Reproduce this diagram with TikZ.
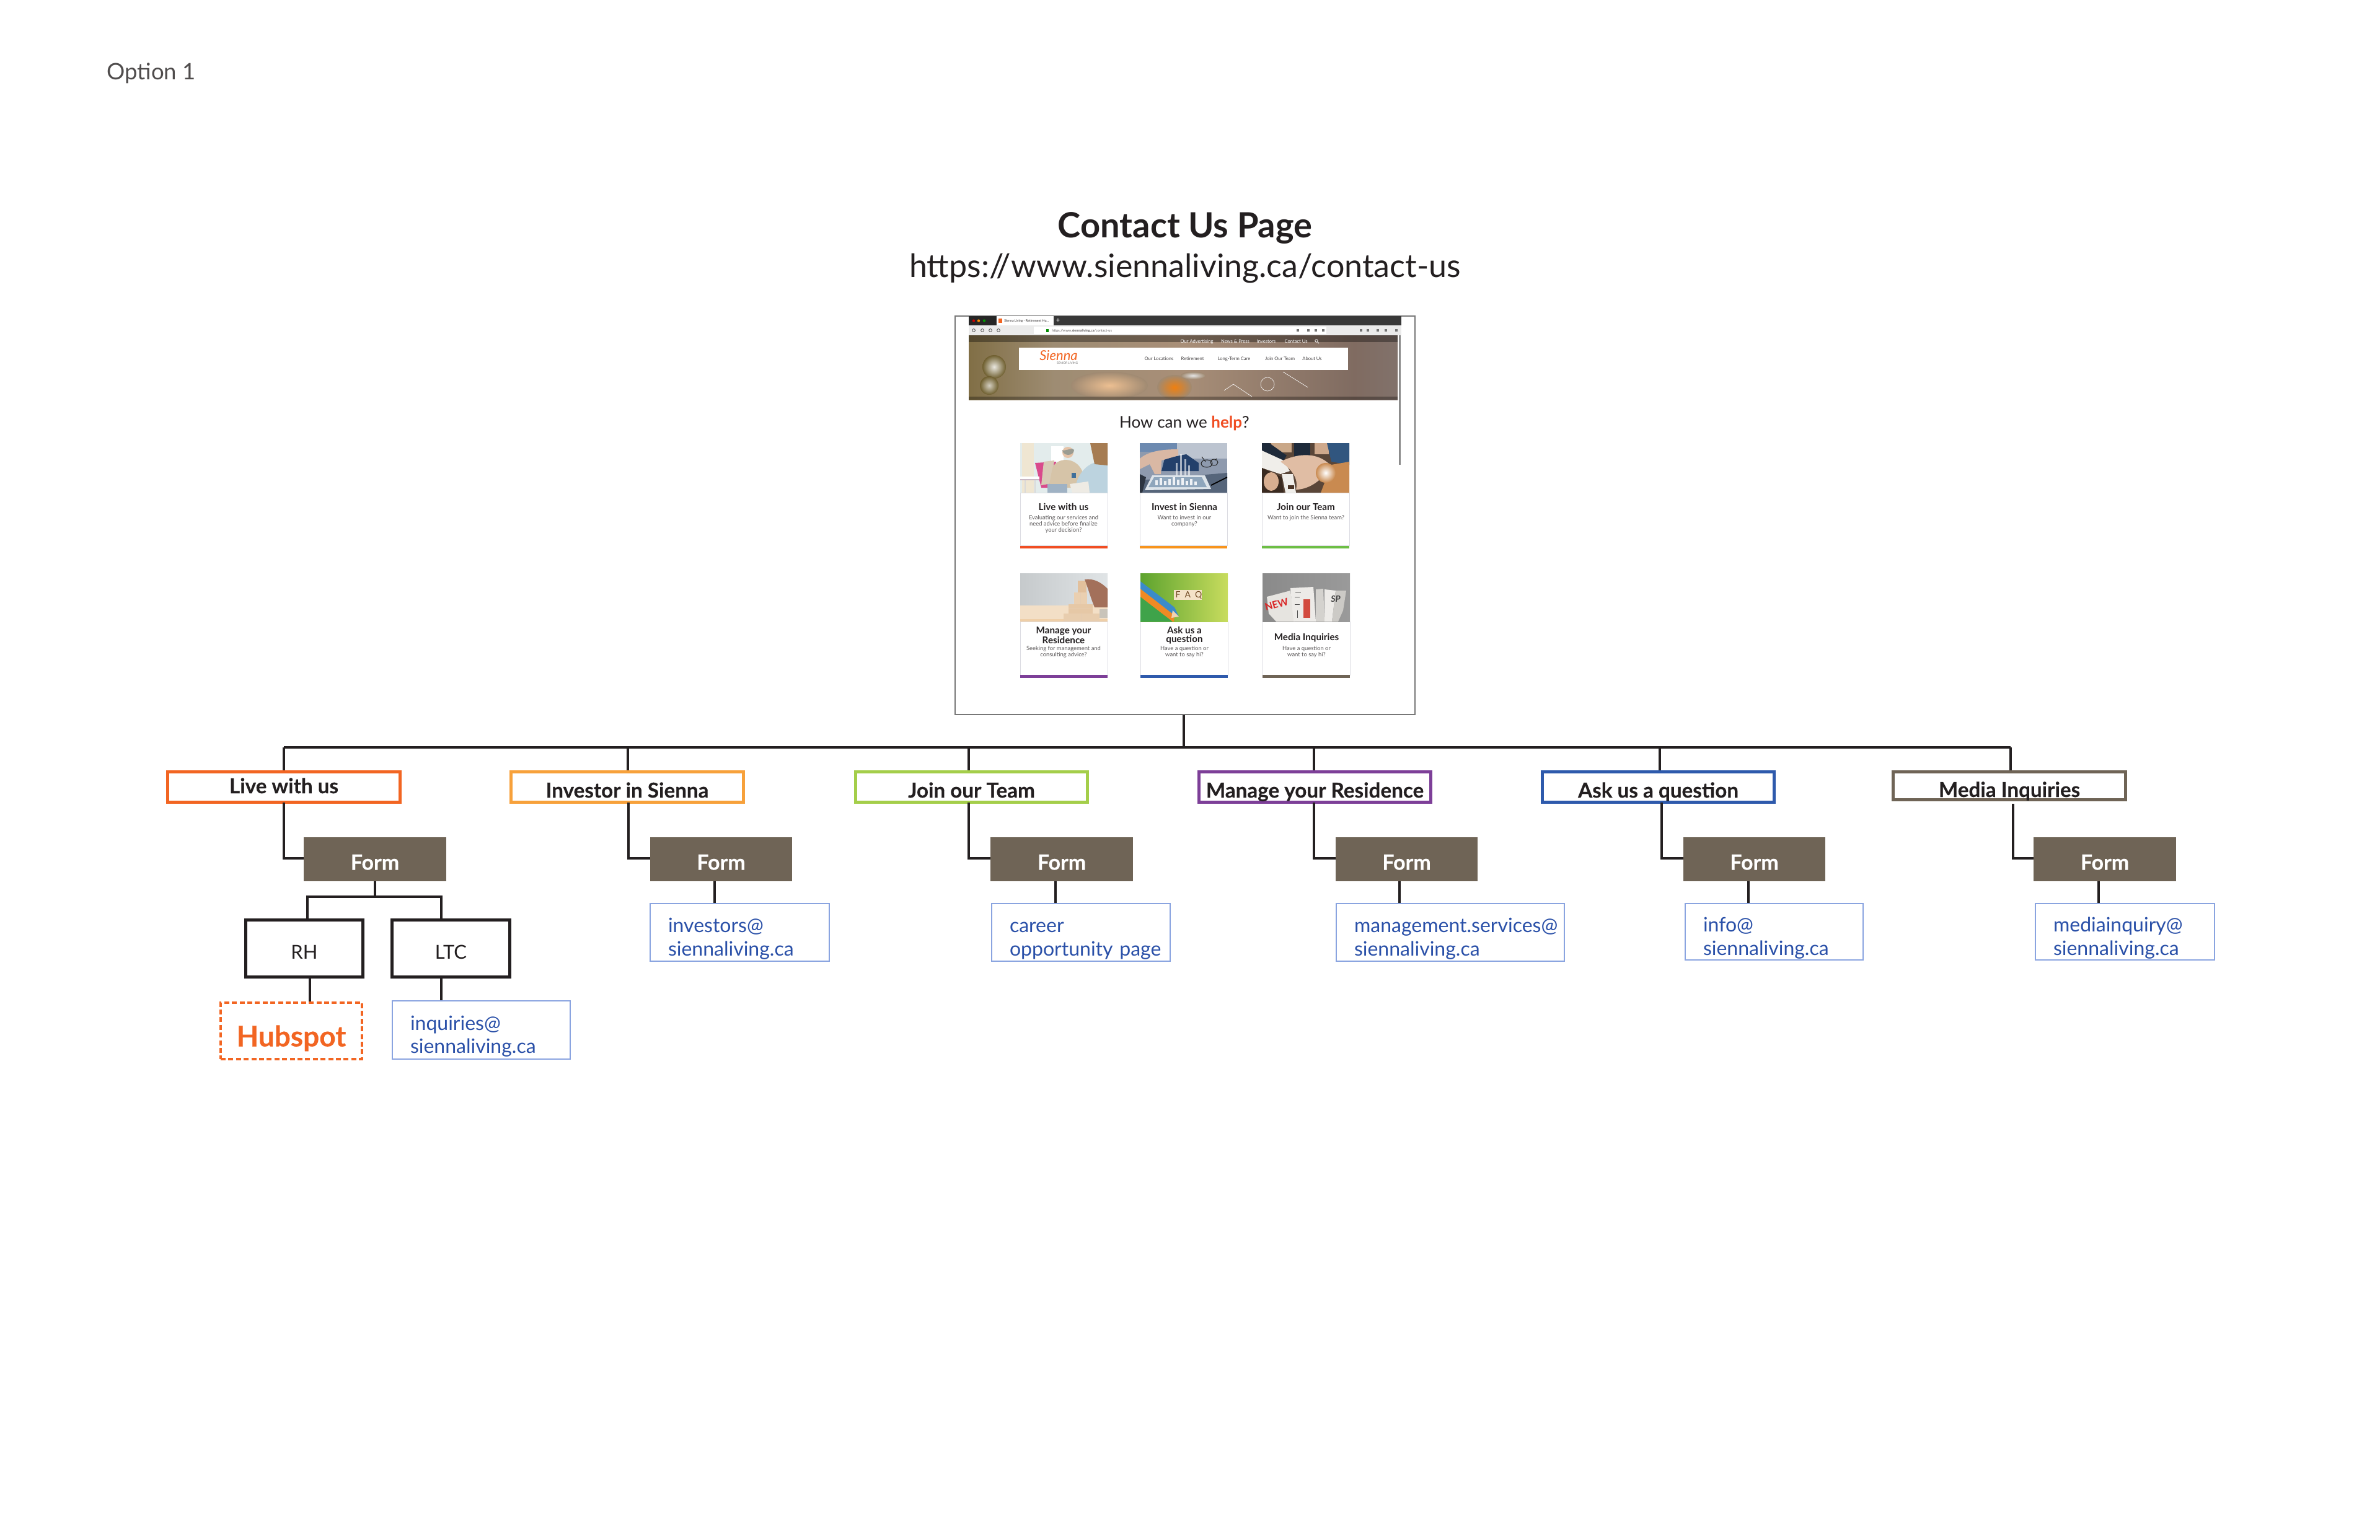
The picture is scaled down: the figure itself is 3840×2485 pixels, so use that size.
\documentclass[tikz,border=0pt]{standalone}
\usepackage{fontspec}
\setmainfont{Lato}
\usetikzlibrary{calc}
\definecolor{ink}{HTML}{231F20}
\definecolor{cLive}{HTML}{F26522}
\definecolor{cInv}{HTML}{F7A13B}
\definecolor{cJoin}{HTML}{A4CE4A}
\definecolor{cMan}{HTML}{7D3F98}
\definecolor{cAsk}{HTML}{2E5AAC}
\definecolor{cMed}{HTML}{6F6456}
\definecolor{mailb}{HTML}{8AA4E0}
\definecolor{mailt}{HTML}{2A50A8}
\definecolor{frameg}{HTML}{777777}
\definecolor{olive}{HTML}{6E5E2E}
\definecolor{tanb}{HTML}{A08A72}
\definecolor{barR}{HTML}{F04E23}
\definecolor{barO}{HTML}{F7941D}
\definecolor{barG}{HTML}{6DBE45}
\pgfdeclarehorizontalshading{heroband}{100bp}{rgb(0bp)=(0.22,0.16,0.07);rgb(8bp)=(0.45,0.36,0.14);rgb(22bp)=(0.47,0.40,0.22);rgb(35bp)=(0.62,0.55,0.45);rgb(50bp)=(0.66,0.56,0.47);rgb(70bp)=(0.50,0.42,0.38);rgb(85bp)=(0.52,0.50,0.50);rgb(92bp)=(0.32,0.31,0.32);rgb(100bp)=(0.40,0.38,0.38)}
\tikzset{
  wire/.style={draw=ink,line width=2pt},
  bl/.style={text height=#1pt,text depth=0pt},
  heavy/.style={font=\fontsize{#1}{18}\selectfont\bfseries\addfontfeatures{FakeBold=0.25}},
  catbox/.style={draw=#1,line width=2.5pt,fill=white,inner sep=0pt,text=ink,heavy=16.6},
  formbox/.style={fill=cMed,inner sep=0pt,text=white,heavy=17,bl=17},
  blackbox/.style={draw=ink,line width=2.5pt,fill=white,inner sep=0pt,text=ink,font=\fontsize{15.5}{18}\selectfont,bl=17},
  mailbox/.style={draw=mailb,line width=0.8pt,fill=white,inner xsep=0pt,inner ysep=0pt,text=mailt,align=left,font=\fontsize{16}{18.75}\selectfont},
  hubbox/.style={draw=cLive,line width=1.7pt,dash pattern=on 4pt off 2.2pt,fill=white,inner sep=0pt,text=cLive,heavy=23,bl=25},
  plain/.style={inner sep=0pt,anchor=base,text=ink},
  ctitle/.style={plain,font=\fontsize{7.6}{8}\selectfont\bfseries},
  cbody/.style={plain,text=ink!75,font=\fontsize{4.7}{5}\selectfont},
  navtxt/.style={plain,text=#1,font=\fontsize{3.8}{5}\selectfont},
  cardframe/.style={draw=blue!10!gray!25,line width=0.4pt,fill=white},
}
\newcommand{\bx}[7][]{\node[#1,minimum width={(#5-#3)*0.5},minimum height={(#6-#4)*0.5}] (#2) at ({(#3+#5)/2},{(#4+#6)/2}) {#7};}
\newcommand{\ml}[7]{\node[mailbox,text width={(#4-#2-58)*0.5},minimum width={(#4-#2)*0.5},minimum height={(#5-#3)*0.5}] (#1) at ({(#2+#4)/2},{(#3+#5)/2}) {\hbox{\rule{0pt}{22pt}#6}\\\hbox{#7}};}
\newcommand{\card}[6]{\fill[cardframe] (#2,#4) rectangle ({#2+141},#5);\fill[#6] (#2,#5) rectangle ({#2+141},{#5+4.5});\coordinate (#1) at (#2,#3);}
\newcommand{\hx}[1]{\definecolor{tmpc}{HTML}{#1}}
\begin{document}
\begin{tikzpicture}[x=0.5pt,y=-0.5pt]
\useasboundingbox[fill=white] (0,0) rectangle (3840,2485);

\node[plain,font=\fontsize{18.3}{22}\selectfont,text=ink!80,anchor=base west] (opt) at (172,128) {Option 1};
\node[plain,font=\fontsize{28}{30}\selectfont\bfseries] (title) at (1912,383) {Contact Us Page};
\node[plain,font=\fontsize{26}{30}\selectfont] (url) at (1912,447) {https://www.siennaliving.ca/contact-us};

% ---------- screenshot ----------
\bx[draw=frameg,line width=0.8pt,fill=white,inner sep=0pt]{shot}{1541}{510}{2283}{1153}{}
\fill[black!78] (1563,510) rectangle (2261,525);
\fill[black!85] (1563,510) rectangle (1607,525);
\fill[white] (1608,510) rectangle (1700,525);
\fill[red!80!black] (1571,517.5) circle (2.2);
\fill[orange!90!yellow] (1579,517.5) circle (2.2);
\fill[green!60!black] (1588,517.5) circle (2.2);
\fill[cLive] (1611,514) rectangle (1617,521);
\node[plain,font=\fontsize{2.6}{3}\selectfont,anchor=base west] (tabt) at (1620,519.5) {Sienna Living - Retirement Ho...};
\node[plain,text=white,font=\fontsize{5.5}{6}\selectfont] (plus) at (1707,520) {+};
\fill[black!8] (1563,525) rectangle (2261,541);
\fill[white] (1668,527) rectangle (2140,539);
\foreach \xx in {1571,1585,1598,1611}{\draw[black!70,line width=0.4pt] (\xx,533) circle (2.4);}
\fill[green!55!black] (1688,531) rectangle (1692,536);
\node[plain,font=\fontsize{2.8}{3}\selectfont,anchor=base west,text=ink!75] (addr) at (1697,535) {https://www.\textbf{siennaliving.ca}/contact-us};
\foreach \xx in {2094,2111,2123,2135,2196,2207,2223,2236,2253}{\fill[black!55] (\xx-1.8,531) rectangle (\xx+1.8,535);}

% hero
\path[shading=heroband] (1563,541) rectangle (2255,645);
\shade[inner color=white!85!olive,outer color=olive] (1604,592) circle (19);
\shade[inner color=white!70!olive,outer color=olive] (1596,622) circle (15);
\shade[inner color=white!60!orange!80!tanb,outer color=tanb] (1790,622) ellipse (62 and 22);
\shade[inner color=orange!75!brown,outer color=tanb] (1895,625) ellipse (28 and 20);
\shade[inner color=white!80!gray,outer color=tanb] (1925,606) ellipse (20 and 6);
\draw[white!70,line width=0.3pt] (2045,620) circle (11) (1975,630) -- (1990,620) -- (2020,640) (2070,600) -- (2110,625);
\fill[black,opacity=.35] (1563,541) rectangle (2255,552);
\fill[black,opacity=.3] (1563,640) rectangle (2255,645);
\bx[fill=white,inner sep=0pt]{navbar}{1644}{561}{2175}{597}{}
\foreach \tx/\nn/\tt in {1931/na/Our Advertising,1993/nb/News \& Press,2043/nc/Investors,2091/nd/Contact Us}{\node[navtxt=white] (\nn) at (\tx,553) {\tt};}
\draw[white,line width=0.4pt] (2124,550) circle (2.2) (2126,552) -- (2128,554);
\foreach \tx/\nn/\tt in {1870/ne/Our Locations,1924/nf/Retirement,1991/ng/Long-Term Care,2065/nh/Join Our Team,2117/ni/About Us}{\node[navtxt=ink!85] (\nn) at (\tx,581.5) {\tt};}
\node[plain,text=cLive,font=\fontsize{11}{12}\selectfont\itshape] (logo) at (1708,581) {Sienna};
\node[plain,text=black!55,font=\fontsize{2.4}{3}\selectfont] (logos) at (1722,587) {SENIOR LIVING};
\fill[black!45] (2257,541) rectangle (2260,750);
\node[plain,font=\fontsize{13}{14}\selectfont] (help) at (1911,690) {How can we \textcolor{barR}{\bfseries help}?};

% cards
\card{k1}{1646}{715}{795}{880.5}{barR}
\card{k2}{1839}{715}{795}{880.5}{barO}
\card{k3}{2036}{715}{795}{880.5}{barG}
\card{k4}{1646}{925}{1003}{1089}{cMan}
\card{k5}{1840}{925}{1003}{1089}{cAsk}
\card{k6}{2037}{925}{1003}{1089}{cMed}

% card 1 picture
\begin{scope}[shift={(k1)}]
\clip (0,0) rectangle (141,80);
\hx{E3ECEC}\fill[tmpc] (0,0) rectangle (141,80);
\hx{EFE6D2}\fill[tmpc] (3,0) rectangle (22,80);
\fill[white] (50,5) rectangle (70,30);
\hx{D94A8C}\fill[tmpc] (24,32) -- (58,30) -- (52,72) -- (34,72) -- cycle;
\hx{D8CBB6}\fill[tmpc] (38,30) -- (55,28) -- (50,65) -- (34,68) -- cycle;
\hx{D6C4A8}\fill[tmpc] (52,40) .. controls (60,22) and (90,22) .. (100,45) -- (98,72) -- (46,72) -- cycle;
\hx{9FB2C4}\fill[tmpc] (44,66) rectangle (76,80);
\hx{E5C3A8}\fill[tmpc] (77,15) circle (9);
\hx{9B9C92}\fill[tmpc] (68,11) arc (180:0:9.5 and 8) -- (84,9) -- (70,12) -- cycle;
\hx{BCD3DF}\fill[tmpc] (88,80) .. controls (90,45) and (115,25) .. (141,30) -- (141,80) -- cycle;
\hx{A67C52}\fill[tmpc] (113,0) -- (141,0) -- (141,36) -- (120,34) -- cycle;
\hx{EEEBE4}\fill[tmpc] (80,66) -- (110,62) -- (112,80) -- (84,80) -- cycle;
\hx{3F6F9A}\fill[tmpc] (83,48) rectangle (90,56);
\fill[white] (0,54) rectangle (31,60);
\hx{C9B8C4}\fill[tmpc] (0,58) rectangle (31,60);
\draw[gray!30,line width=0.6pt] (8,60) -- (8,80) (24,60) -- (24,80);
\end{scope}
% card 2 picture
\begin{scope}[shift={(k2)}]
\clip (0,0) rectangle (141,80);
\hx{8E9AAE}\fill[tmpc] (0,0) rectangle (141,80);
\hx{BCC4D0}\fill[tmpc] (60,0) rectangle (141,25);
\hx{6D8AB0}\fill[tmpc] (0,0) rectangle (60,14);
\hx{23406B}\fill[tmpc] (40,25) -- (75,18) -- (95,32) -- (95,45) -- (35,45) -- cycle;
\hx{D9B8A4}\fill[tmpc] (0,25) .. controls (15,12) and (40,10) .. (62,10) -- (62,20) -- (35,28) -- (34,50) -- (24,50) -- (16,34) -- (0,42) -- cycle;
\hx{56657A}\fill[tmpc] (0,60) -- (141,48) -- (141,80) -- (0,80) -- cycle;
\hx{2C3440}\fill[tmpc] (0,50) -- (10,55) -- (4,80) -- (0,80) -- cycle;
\hx{DDE4EA}\fill[tmpc] (8,76) -- (20,52) -- (105,52) -- (115,74) -- cycle;
\hx{8FA6BC}\fill[tmpc] (14,71) -- (23,55) -- (100,55) -- (108,71) -- cycle;
\foreach \bb/\hh in {25/8,32/12,39/7,46/10,53/13,60/9,67/12,74/7,81/10,88/6}{\fill[white,opacity=.85] (\bb,68) rectangle ({\bb+4},{68-\hh});}
\foreach \bb/\hh in {58/20,65/34,72/26,78/16}{\fill[white,opacity=.6] (\bb,52) rectangle ({\bb+3},{52-\hh});}
\draw[black!85,line width=0.5pt] (108,33) ellipse (9 and 6) (120,31) ellipse (6 and 5) (100,22) -- (106,30) (124,25) -- (121,28);
\draw[black,line width=0.9pt] (115,68) -- (141,55);
\end{scope}
% card 3 picture
\begin{scope}[shift={(k3)}]
\clip (0,0) rectangle (141,80);
\hx{5A4638}\fill[tmpc] (0,0) rectangle (141,80);
\hx{C9A788}\fill[tmpc] (15,0) rectangle (48,15);
\hx{1E2A3A}\fill[tmpc] (0,0) -- (12,0) -- (40,20) -- (35,28) -- (0,12) -- cycle;
\fill[tmpc] (52,0) rectangle (78,22);
\hx{CFA98C}\fill[tmpc] (85,0) rectangle (108,18);
\hx{31567F}\fill[tmpc] (105,0) -- (141,0) -- (141,35) -- (112,30) -- cycle;
\hx{F0EEEA}\fill[tmpc] (0,12) -- (35,28) -- (45,45) -- (30,50) -- (0,40) -- cycle;
\hx{3A2A20}\fill[tmpc] (0,40) -- (32,55) -- (35,80) -- (0,80) -- cycle;
\hx{D8AE90}\fill[tmpc] (15,62) ellipse (12 and 15);
\hx{F0EEEA}\fill[tmpc] (32,50) -- (50,50) -- (55,80) -- (38,80) -- cycle;
\hx{E0BDA4}\fill[tmpc] (30,30) .. controls (60,15) and (90,15) .. (110,35) .. controls (100,60) and (75,75) .. (55,75) .. controls (60,55) and (45,40) .. (30,30) -- cycle;
\hx{4A3426}\fill[tmpc] (42,68) rectangle (52,74);
\hx{C98A50}\fill[tmpc] (112,35) -- (141,30) -- (141,80) -- (95,80) -- cycle;
\shade[inner color=white,outer color=tmpc] (103,48) circle (16);
\end{scope}
% card 4 picture
\begin{scope}[shift={(k4)}]
\clip (0,0) rectangle (141,78);
\definecolor{wa}{HTML}{C6CACC}\definecolor{wb}{HTML}{E0E4E6}
\shade[left color=wa,right color=wb] (0,0) rectangle (141,52);
\hx{F3DFC6}\fill[tmpc] (0,52) rectangle (141,78);
\hx{EFCFA8}\fill[tmpc] (0,74) rectangle (141,78);
\hx{E8CDAE}\fill[tmpc] (70,65) rectangle (128,78);
\hx{E6C8A6}\fill[tmpc] (78,50) rectangle (117,65);
\hx{EACFB0}\fill[tmpc] (87,31) rectangle (108,50);
\hx{E2C09C}\fill[tmpc] (93,12) rectangle (107,31);
\hx{C9C4BA}\fill[tmpc] (128,58) rectangle (141,72);
\hx{A3705A}\fill[tmpc] (104,10) .. controls (118,8) and (130,14) .. (141,25) -- (141,55) -- (120,55) .. controls (112,35) and (110,25) .. (104,10) -- cycle;
\draw[brown!40,line width=0.2pt] (78,57) -- (117,57) (97,31) -- (97,50) (98,65) -- (98,78);
\end{scope}
% card 5 picture
\begin{scope}[shift={(k5)}]
\clip (0,0) rectangle (141,78);
\definecolor{ga}{HTML}{5DA32E}\definecolor{gb}{HTML}{C8DC5E}
\shade[left color=ga,right color=gb] (0,0) rectangle (141,78);
\hx{3FA34A}\fill[tmpc] (0,38) -- (52,78) -- (0,78) -- cycle;
\hx{F08A24}\fill[tmpc] (0,25) -- (55,67) -- (54,78) -- (52,78) -- (0,38) -- cycle;
\hx{3B8BC9}\fill[tmpc] (0,13) -- (55,55) -- (62,70) -- (50,64) -- (0,25) -- cycle;
\hx{F2D2B0}\fill[tmpc] (52,60) -- (62,70) -- (50,72) -- cycle;
\hx{F4E2C8}\fill[tmpc] (54,27) rectangle (99,43);
\node[plain,text=brown!60!black,font=\fontsize{7}{8}\selectfont] (faq) at (78,39) {F\,\,\,A\,\,\,Q};
\end{scope}
% card 6 picture
\begin{scope}[shift={(k6)}]
\clip (0,0) rectangle (141,78);
\definecolor{na1}{HTML}{8A8A8A}\definecolor{na2}{HTML}{9A9A9A}
\shade[left color=na1,right color=na2] (0,0) rectangle (141,78);
\hx{E6E4E0}\fill[tmpc] (7,38) -- (45,28) -- (52,78) -- (22,78) -- (10,65) -- cycle;
\node[plain,text=red!70!gray,rotate=15,font=\fontsize{8}{9}\selectfont\bfseries] (news) at (24,56) {NEW};
\hx{EDEBE8}\fill[tmpc] (45,24) -- (82,22) -- (86,78) -- (50,78) -- cycle;
\hx{D24A3E}\fill[tmpc] (66,42) rectangle (77,72);
\draw[black!70,line width=0.5pt] (53,30) -- (62,30) (52,38) -- (60,38) (52,50) -- (60,50) (56,60) -- (56,72);
\hx{D4D2CE}\fill[tmpc] (86,26) -- (98,25) -- (100,78) -- (86,78) -- cycle;
\hx{EDEBE8}\fill[tmpc] (100,26) -- (118,28) -- (112,78) -- (100,78) -- cycle;
\hx{CCCAC6}\fill[tmpc] (118,28) -- (135,28) -- (130,60) -- (122,78) -- (112,78) -- cycle;
\node[plain,text=black!75,font=\fontsize{7}{8}\selectfont\bfseries\itshape] (dsp) at (118,46) {SP};
\end{scope}

% card texts
\node[ctitle] (t1) at (1716,823) {Live with us};
\node[cbody] (b1a) at (1716,838) {Evaluating our services and};
\node[cbody] (b1b) at (1716,848) {need advice before finalize};
\node[cbody] (b1c) at (1716,858) {your decision?};
\node[ctitle] (t2) at (1911,823) {Invest in Sienna};
\node[cbody] (b2a) at (1911,838) {Want to invest in our};
\node[cbody] (b2b) at (1911,848) {company?};
\node[ctitle] (t3) at (2107,823) {Join our Team};
\node[cbody] (b3a) at (2107,838) {Want to join the Sienna team?};
\node[ctitle] (t4a) at (1716,1022) {Manage your};
\node[ctitle] (t4b) at (1716,1038) {Residence};
\node[cbody] (b4a) at (1716,1049) {Seeking for management and};
\node[cbody] (b4b) at (1716,1059) {consulting advice?};
\node[ctitle] (t5a) at (1911,1022) {Ask us a};
\node[ctitle] (t5b) at (1911,1036) {question};
\node[cbody] (b5a) at (1911,1049) {Have a question or};
\node[cbody] (b5b) at (1911,1059) {want to say hi?};
\node[ctitle] (t6) at (2108,1033) {Media Inquiries};
\node[cbody] (b6a) at (2108,1049) {Have a question or};
\node[cbody] (b6b) at (2108,1059) {want to say hi?};

% ---------- category boxes ----------
\bx[catbox=cLive,bl=10]{live}{270.5}{1245.5}{645.5}{1294.5}{Live with us}
\bx[catbox=cInv,bl=17]{inv}{824.5}{1245.5}{1199.5}{1294.5}{Investor in Sienna}
\bx[catbox=cJoin,bl=17]{join}{1380.5}{1245.5}{1754.5}{1294.5}{Join our Team}
\bx[catbox=cMan,bl=17]{manage}{1934.5}{1245.5}{2308.5}{1294.5}{Manage your Residence}
\bx[catbox=cAsk,bl=17]{ask}{2488.5}{1245.5}{2862.5}{1294.5}{Ask us a question}
\bx[catbox=cMed,bl=18]{media}{3054.5}{1245.5}{3429.5}{1290.5}{Media Inquiries}

% ---------- forms ----------
\bx[formbox]{f1}{490}{1351}{720}{1422}{Form}
\bx[formbox]{f2}{1049}{1351}{1278}{1422}{Form}
\bx[formbox]{f3}{1598}{1351}{1828}{1422}{Form}
\bx[formbox]{f4}{2155}{1351}{2384}{1422}{Form}
\bx[formbox]{f5}{2716}{1351}{2945}{1422}{Form}
\bx[formbox]{f6}{3281}{1351}{3511}{1422}{Form}

% ---------- leaves ----------
\bx[blackbox]{rh}{396.5}{1484.5}{585.5}{1576}{RH}
\bx[blackbox]{ltc}{632.5}{1484.5}{822.5}{1576}{LTC}
\bx[hubbox]{hub}{356}{1618}{584}{1709}{Hubspot}
\ml{m1}{633}{1615}{920}{1709}{inquiries@}{siennaliving.ca}
\ml{m2}{1049}{1458}{1338}{1551}{investors@}{siennaliving.ca}
\ml{m3}{1600}{1458}{1888}{1551}{career}{opportunity page}
\ml{m4}{2156}{1458}{2524}{1551}{management.services@}{siennaliving.ca}
\ml{m5}{2719}{1458}{3006}{1549}{info@}{siennaliving.ca}
\ml{m6}{3284}{1458}{3573}{1549}{mediainquiry@}{siennaliving.ca}

% ---------- connectors ----------
\coordinate (stem) at (1910,1206);
\coordinate (busL) at (458,1206);
\coordinate (busR) at (3244,1206);
\draw[wire] (busL) -- (busR);
\draw[wire] (shot.south -| stem) -- (stem);
\foreach \dx/\nd in {458/live,1013/inv,1563/join,2120/manage,2678/ask,3244/media}{
  \coordinate (dd) at (\dx,1206);
  \draw[wire] (dd) -- (dd |- \nd.north);
}
\foreach \dx/\yy/\nd/\fm in {458/1295/live/f1,1014/1295/inv/f2,1563/1295/join/f3,2120/1295/manage/f4,2681/1295/ask/f5,3248/1297/media/f6}{
  \coordinate (uu) at (\dx,\yy);
  \coordinate (vv) at (\dx,1385);
  \draw[wire] (uu) |- (vv -| \fm.west);
}
\foreach \dx/\fm/\ma in {1153/f2/m2,1703/f3/m3,2258/f4/m4,2821/f5/m5,3386/f6/m6}{
  \coordinate (uu) at (\dx,1400);
  \draw[wire] (uu |- \fm.south) -- (uu |- \ma.north);
}
\coordinate (sp) at (605,1447);
\draw[wire] (f1.south -| sp) -- (sp);
\coordinate (spl) at (496,1447);
\coordinate (spr) at (712,1447);
\draw[wire] (rh.north -| spl) |- (spr) -- (ltc.north -| spr);
\draw[wire] (500,1400 |- rh.south) -- (500,1400 |- hub.north);
\draw[wire] (ltc.south -| spr) -- (m1.north -| spr);
\end{tikzpicture}
\end{document}
